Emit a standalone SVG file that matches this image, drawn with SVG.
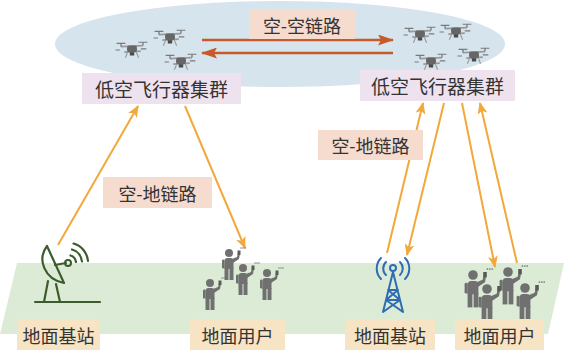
<svg xmlns="http://www.w3.org/2000/svg" xmlns:xlink="http://www.w3.org/1999/xlink" width="564" height="350" viewBox="0 0 564 350">
  <style>
    .lbl { font-family: "Noto Sans CJK SC", "Noto Sans", sans-serif; fill: #333; text-anchor: middle; dominant-baseline: central; }
    .big { font-size: 19px; }
    .mid { font-size: 18px; }
    .cluster { fill: #efe2ef; }
    .link { fill: #f6dccf; }
    .ground { fill: #f7e4c4; }
    .ag { stroke: #f2a83a; stroke-width: 2; fill: none; }
    .aa { stroke: #c65a2a; stroke-width: 2.5; fill: none; }
    .dish { stroke: #3d5c2e; stroke-width: 2.2; fill: none; stroke-linecap: round; stroke-linejoin: round; }
    .tower { stroke: #2e6db4; stroke-width: 2; fill: none; stroke-linecap: round; stroke-linejoin: round; }
  </style>
  <defs>
    <marker id="headOrange" viewBox="0 0 12 10" refX="11" refY="5" markerWidth="12" markerHeight="10" markerUnits="userSpaceOnUse" orient="auto">
      <path d="M0,0 L12,5 L0,10 L3,5 z" fill="#f2a83a"/>
    </marker>
    <marker id="headRust" viewBox="0 0 16 11" refX="15" refY="5.5" markerWidth="16" markerHeight="11" markerUnits="userSpaceOnUse" orient="auto">
      <path d="M0,0 L16,5.5 L0,11 L3,5.5 z" fill="#c65a2a"/>
    </marker>
    <!-- quadcopter -->
    <g id="uav">
      <path d="M-10,-3 L10,-4 M-7,2 L8,1" stroke="#9a9a9a" stroke-width="1.6" fill="none"/>
      <path d="M-14,-6 h8 M6,-7 h8 M-11,0 h-4 M8,-1 h5" stroke="#7a7a7a" stroke-width="1" fill="none"/>
      <path d="M-10,-3 v-3 M10,-4 v-3" stroke="#7a7a7a" stroke-width="1.2"/>
      <rect x="-4.5" y="-4" width="9" height="6" rx="2" fill="#666"/>
      <rect x="-2" y="2" width="4" height="3" fill="#4a4a4a"/>
      <path d="M-4,2 l-2,5 M4,2 l2,5" stroke="#9a9a9a" stroke-width="1" fill="none"/>
    </g>
    <!-- person holding a phone; origin at head centre -->
    <g id="person" fill="#707070">
      <circle cx="0" cy="0" r="4"/>
      <path d="M-4.5,8 Q-4.5,5 -1.5,5 L1.5,5 Q4.5,5 4.5,8 L4.5,16 L-4.5,16 z"/>
      <rect x="-4.5" y="15" width="4" height="12"/>
      <rect x="0.5" y="15" width="4" height="12"/>
      <rect x="-7" y="6.5" width="2.6" height="9" rx="1.2"/>
      <path d="M3,6 L8,4 L9,0 L11,0.5 L10,6 L4,10 z"/>
      <rect x="8.5" y="-2.5" width="3" height="4.5" fill="#5a5a5a"/>
      <circle cx="12" cy="-5" r="0.7"/>
      <circle cx="14" cy="-5" r="0.7"/>
      <circle cx="16" cy="-5" r="0.7"/>
    </g>
  </defs>

  <!-- airspace and ground plane -->
  <ellipse cx="280" cy="44" rx="225" ry="43" fill="#d6e4ee"/>
  <path d="M17,263 L564,263 L548,334 L0,334 z" fill="#dcebd5"/>

  <g id="connectors">
    <!-- air-to-air links -->
    <line class="aa" x1="202" y1="40" x2="393" y2="40" marker-end="url(#headRust)"/>
    <line class="aa" x1="393" y1="53" x2="202" y2="53" marker-end="url(#headRust)"/>
    <!-- left air-ground links -->
    <line class="ag" x1="58" y1="245" x2="138" y2="106" marker-end="url(#headOrange)"/>
    <line class="ag" x1="185" y1="106" x2="245" y2="248" marker-end="url(#headOrange)"/>
    <!-- right air-ground links -->
    <line class="ag" x1="387" y1="253" x2="423" y2="103" marker-end="url(#headOrange)"/>
    <line class="ag" x1="444" y1="103" x2="407" y2="255" marker-end="url(#headOrange)"/>
    <line class="ag" x1="462" y1="103" x2="495" y2="267" marker-end="url(#headOrange)"/>
    <line class="ag" x1="517" y1="263" x2="480" y2="103" marker-end="url(#headOrange)"/>
  </g>

  <g id="aa-label">
    <rect class="link" x="249" y="10" width="106" height="29"/>
    <text class="lbl mid" x="302" y="24.5">空-空链路</text>
  </g>

  <g id="cluster-left">
    <use xlink:href="#uav" transform="translate(132,50) scale(1.1)"/>
    <use xlink:href="#uav" transform="translate(170,38) scale(1.1)"/>
    <use xlink:href="#uav" transform="translate(181,62) scale(1.1)"/>
    <rect class="cluster" x="82" y="73" width="159" height="31"/>
    <text class="lbl big" x="161.5" y="88.5">低空飞行器集群</text>
  </g>

  <g id="cluster-right">
    <use xlink:href="#uav" transform="translate(420,35) scale(1.1)"/>
    <use xlink:href="#uav" transform="translate(456,32) scale(1.1)"/>
    <use xlink:href="#uav" transform="translate(474,56) scale(1.1)"/>
    <use xlink:href="#uav" transform="translate(431,62) scale(1.1)"/>
    <rect class="cluster" x="360" y="70" width="155" height="31"/>
    <text class="lbl big" x="437.5" y="85.5">低空飞行器集群</text>
  </g>

  <g id="ag-label-left">
    <rect class="link" x="103" y="177" width="109" height="31"/>
    <text class="lbl mid" x="157.5" y="192.5">空-地链路</text>
  </g>

  <g id="ag-label-right">
    <rect class="link" x="318" y="130" width="105" height="30"/>
    <text class="lbl mid" x="370.5" y="145">空-地链路</text>
  </g>

  <g id="station-left">
    <path class="dish" d="M35,302 H100"/>
    <path class="dish" d="M47,246 C37,259 44,279 64,283 Z"/>
    <path class="dish" d="M55,265 L66,263"/>
    <circle cx="68" cy="263" r="3" fill="none" stroke="#3d5c2e" stroke-width="2"/>
    <path class="dish" d="M48,281 L44,302 M56,284 L60,302"/>
    <path class="dish" d="M70.5,255.5 A8,8 0 0 1 76,262 M72,249.5 A14,14 0 0 1 82,261.5 M73.5,243.5 A20,20 0 0 1 88,261"/>
    <rect class="ground" x="17" y="319" width="83" height="31"/>
    <text class="lbl mid" x="58.5" y="335">地面基站</text>
  </g>

  <g id="users-left">
    <use xlink:href="#person" x="229" y="253"/>
    <use xlink:href="#person" x="243" y="268"/>
    <use xlink:href="#person" x="267" y="273"/>
    <use xlink:href="#person" x="210" y="283"/>
    <rect class="ground" x="190" y="319" width="95" height="31"/>
    <text class="lbl mid" x="237.5" y="335">地面用户</text>
  </g>

  <g id="station-right">
    <circle cx="393" cy="268" r="3" fill="none" stroke="#2e6db4" stroke-width="2"/>
    <path class="tower" d="M393,272 L383,312 M393,272 L403,312 M388,290 L398,290 M386,300 L400,300 M388,290 L400,300 M398,290 L386,300 M386,300 L403,312 M400,300 L383,312"/>
    <path class="tower" d="M386,262 A9,9 0 0 0 386,275 M381,258 A15,15 0 0 0 381,279 M400,262 A9,9 0 0 1 400,275 M405,258 A15,15 0 0 1 405,279"/>
    <rect class="ground" x="345" y="319" width="90" height="31"/>
    <text class="lbl mid" x="390" y="335">地面基站</text>
  </g>

  <g id="users-right">
    <use xlink:href="#person" transform="translate(473,275) scale(1.2)"/>
    <use xlink:href="#person" transform="translate(508,272) scale(1.2)"/>
    <use xlink:href="#person" transform="translate(487,289) scale(1.2)"/>
    <use xlink:href="#person" transform="translate(525,288) scale(1.2)"/>
    <rect class="ground" x="455" y="319" width="89" height="31"/>
    <text class="lbl mid" x="499.5" y="335">地面用户</text>
  </g>
</svg>
